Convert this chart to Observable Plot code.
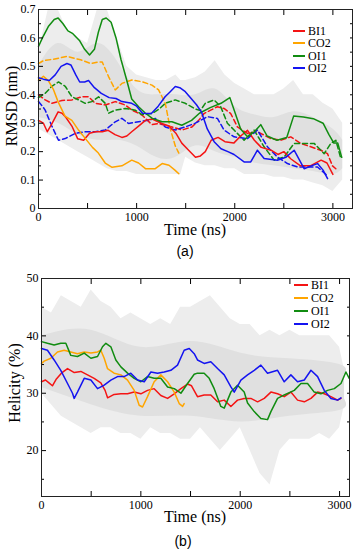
<!DOCTYPE html>
<html>
<head>
<meta charset="utf-8">
<script src="https://cdn.jsdelivr.net/npm/d3@7"></script>
<script src="https://cdn.jsdelivr.net/npm/@observablehq/plot@0.6"></script>
<style>
  html, body { margin: 0; padding: 0; background: #fff; }
  #fig { position: relative; width: 357px; height: 550px; overflow: hidden; font-family: "Liberation Serif", "Times New Roman", serif; color: #000; }
  #fig svg { position: absolute; left: 0; }
  .lbl { position: absolute; line-height: 1; white-space: nowrap; transform: translate(-50%, -50%); }
  .rot { transform: translate(-50%, -50%) rotate(-90deg); }
  .sans { font-family: "Liberation Sans", Arial, sans-serif; }
  .leg { position: absolute; line-height: 0.75; white-space: nowrap; transform: translateY(-50%); }
  .sw { position: absolute; height: 2px; }
</style>
</head>
<body>
<div id="fig"></div>
<script>
// ---------- Series names and colours ----------
const series = ["BI1", "CO2", "OI1", "OI2"];
const colors = ["#f41414", "#ffa500", "#118c11", "#1414f0"];

// ---------- Panel (a): RMSD (nm) vs Time (ns) ----------
const rmsdBI1 = [[0,0.31],[50,0.30],[90,0.27],[140,0.30],[200,0.34],[240,0.335],[280,0.32],[340,0.29],[400,0.245],[460,0.24],[520,0.265],[580,0.27],[650,0.27],[710,0.275],[780,0.26],[850,0.25],[900,0.255],[950,0.27],[1020,0.29],[1090,0.31],[1160,0.315],[1250,0.30],[1330,0.29],[1400,0.265],[1460,0.23],[1530,0.205],[1600,0.18],[1650,0.185],[1700,0.20],[1760,0.24],[1830,0.25],[1900,0.235],[1990,0.23],[2060,0.255],[2130,0.275],[2200,0.24],[2270,0.215],[2370,0.205],[2440,0.19],[2500,0.20],[2570,0.175],[2670,0.15],[2770,0.15],[2880,0.17],[2940,0.16],[3000,0.12]];
const rmsdCO2 = [[0,0.45],[50,0.465],[100,0.45],[150,0.42],[200,0.375],[270,0.325],[340,0.31],[410,0.275],[480,0.245],[550,0.215],[610,0.195],[680,0.16],[750,0.145],[850,0.15],[950,0.17],[1020,0.16],[1090,0.14],[1190,0.14],[1260,0.158],[1330,0.152],[1390,0.135],[1430,0.122]];
const rmsdOI1 = [[0,0.57],[40,0.60],[100,0.64],[160,0.665],[200,0.67],[250,0.65],[300,0.625],[350,0.615],[420,0.59],[470,0.56],[520,0.54],[570,0.56],[610,0.62],[650,0.665],[690,0.67],[740,0.655],[790,0.60],[840,0.525],[900,0.45],[950,0.385],[1020,0.358],[1090,0.335],[1160,0.317],[1260,0.305],[1360,0.305],[1460,0.293],[1560,0.31],[1640,0.335],[1750,0.355],[1860,0.37],[1950,0.39],[1990,0.35],[2060,0.28],[2130,0.252],[2200,0.27],[2265,0.295],[2330,0.255],[2430,0.24],[2530,0.25],[2600,0.325],[2700,0.322],[2800,0.316],[2900,0.30],[2960,0.26],[3010,0.23],[3050,0.23],[3090,0.18]];
const rmsdOI2 = [[0,0.46],[50,0.455],[110,0.45],[170,0.47],[230,0.50],[290,0.51],[330,0.505],[380,0.47],[420,0.445],[470,0.445],[510,0.45],[570,0.425],[640,0.405],[720,0.39],[790,0.387],[850,0.376],[950,0.37],[1000,0.36],[1060,0.335],[1150,0.334],[1220,0.36],[1290,0.393],[1340,0.41],[1394,0.429],[1440,0.425],[1496,0.411],[1560,0.385],[1610,0.365],[1660,0.34],[1720,0.28],[1790,0.235],[1860,0.21],[1930,0.20],[1993,0.19],[2095,0.164],[2163,0.164],[2231,0.205],[2299,0.176],[2435,0.17],[2520,0.18],[2605,0.205],[2707,0.14],[2780,0.15],[2844,0.158],[2900,0.135],[2946,0.105]];
const rmsdBI1d = [[0,0.40],[68,0.382],[136,0.37],[238,0.38],[340,0.382],[442,0.393],[510,0.393],[578,0.37],[680,0.364],[782,0.376],[884,0.364],[952,0.346],[1054,0.329],[1156,0.295],[1224,0.299],[1360,0.287],[1462,0.276],[1564,0.287],[1632,0.31],[1687,0.334],[1755,0.346],[1823,0.358],[1891,0.352],[1959,0.334],[2027,0.287],[2129,0.264],[2231,0.27],[2367,0.246],[2469,0.24],[2571,0.252],[2673,0.229],[2775,0.217],[2877,0.205],[2945,0.193],[2996,0.15],[3030,0.14]];
const rmsdCO2d = [[0,0.51],[50,0.52],[150,0.525],[290,0.535],[430,0.523],[530,0.51],[600,0.515],[650,0.515],[714,0.464],[782,0.417],[850,0.44],[952,0.452],[1054,0.446],[1156,0.434],[1224,0.417],[1292,0.37],[1343,0.28],[1394,0.22],[1430,0.195]];
const rmsdOI1d = [[0,0.39],[68,0.405],[136,0.43],[204,0.445],[272,0.43],[340,0.393],[408,0.382],[476,0.37],[544,0.376],[612,0.393],[680,0.37],[714,0.335],[782,0.346],[884,0.352],[986,0.346],[1054,0.33],[1156,0.334],[1230,0.35],[1292,0.37],[1394,0.382],[1496,0.37],[1598,0.35],[1650,0.345],[1700,0.37],[1789,0.382],[1857,0.358],[1925,0.30],[1993,0.276],[2095,0.24],[2197,0.276],[2299,0.217],[2401,0.17],[2503,0.181],[2605,0.229],[2707,0.229],[2809,0.229],[2911,0.193],[2979,0.229],[3030,0.24],[3081,0.176]];
const rmsdOI2d = [[0,0.376],[40,0.36],[68,0.346],[136,0.29],[204,0.24],[272,0.246],[374,0.264],[476,0.27],[578,0.27],[680,0.276],[782,0.305],[850,0.317],[918,0.299],[1020,0.305],[1122,0.311],[1190,0.317],[1292,0.287],[1394,0.276],[1496,0.287],[1598,0.30],[1721,0.323],[1823,0.317],[1891,0.276],[1993,0.252],[2129,0.246],[2231,0.276],[2333,0.217],[2435,0.181],[2537,0.158],[2639,0.146],[2741,0.146],[2843,0.146],[2945,0.115]];
// raw (grey) RMSD spread: time, low, high (outer spikes) and dense core
const rawRmsdT  = [0,100,200,300,400,500,600,700,800,900,1000,1100,1200,1300,1400,1450,1500,1600,1700,1800,1900,2000,2100,2200,2300,2400,2500,2600,2700,2800,2900,3000,3100];
const rawRmsdLo = [0.28,0.26,0.24,0.22,0.20,0.18,0.16,0.14,0.13,0.13,0.12,0.12,0.12,0.12,0.12,0.12,0.18,0.16,0.15,0.15,0.14,0.14,0.12,0.12,0.12,0.11,0.11,0.10,0.10,0.09,0.08,0.06,0.10];
const rawRmsdHi = [0.55,0.70,0.70,0.62,0.60,0.58,0.70,0.70,0.60,0.50,0.47,0.46,0.45,0.45,0.47,0.45,0.45,0.46,0.48,0.52,0.47,0.44,0.42,0.40,0.40,0.40,0.42,0.45,0.40,0.40,0.37,0.35,0.30];
const coreRmsdT  = [0,200,400,600,800,1000,1200,1400,1600,1800,2000,2200,2400,2600,2800,3000,3100];
const coreRmsdLo = [0.32,0.30,0.26,0.24,0.24,0.22,0.18,0.18,0.22,0.20,0.18,0.16,0.15,0.14,0.13,0.12,0.14];
const coreRmsdHi = [0.50,0.58,0.55,0.58,0.52,0.42,0.40,0.40,0.40,0.42,0.36,0.33,0.32,0.34,0.32,0.28,0.24];

// ---------- Panel (b): Helicity (%) vs Time (ns) ----------
const helBI1 = [[0,32],[40,32.3],[75,31.8],[110,31.3],[150,32.5],[200,33.5],[262,34.3],[330,33.6],[396,33.8],[463,33.2],[530,32.6],[597,31.8],[640,30.5],[665,29.2],[731,29.8],[799,29.9],[866,29.9],[933,30.2],[1000,29.9],[1067,30.5],[1134,30.8],[1201,29.6],[1269,29.1],[1336,29.9],[1403,30.8],[1470,31.6],[1510,31.3],[1570,29.4],[1637,29.7],[1704,29.7],[1772,28.5],[1839,28.8],[1906,27.7],[1973,28.8],[2040,29.1],[2107,29.1],[2175,28.5],[2242,29.1],[2309,30.2],[2376,29.9],[2443,29.4],[2510,30.2],[2577,28.8],[2645,28.5],[2712,29.1],[2779,30.2],[2846,29.9],[2913,29.4],[2980,28.8],[3014,29.1]];
const helCO2 = [[0,35.2],[27,35.6],[94,36.1],[161,37.2],[228,37.5],[295,37.2],[362,36.9],[430,37.2],[497,37.0],[564,37.2],[597,37.5],[631,36.1],[664,34.3],[731,33.5],[799,33.2],[866,32.3],[933,30.5],[983,27.9],[1017,27.6],[1067,29.4],[1134,32.0],[1201,33.2],[1269,32.0],[1336,30.2],[1386,28.2],[1420,27.7],[1436,28.2]];
const helOI1 = [[0,39],[60,38.7],[127,38.4],[194,38.7],[245,38.7],[295,36.6],[362,36.4],[430,37.0],[497,36.1],[564,36.4],[614,38.1],[648,38.7],[698,38.1],[748,35.8],[799,34.6],[866,33.5],[933,32.6],[1000,32.0],[1067,32.9],[1134,32.6],[1201,32.6],[1269,31.1],[1336,30.8],[1403,30.0],[1470,31.7],[1537,33.3],[1570,33.5],[1637,33.5],[1688,32.6],[1738,30.8],[1805,27.7],[1839,27.4],[1906,30.2],[1973,31.4],[2040,30.2],[2074,28.3],[2141,26.8],[2208,25.6],[2275,25.4],[2309,26.8],[2376,29.1],[2443,29.7],[2544,30.5],[2611,31.7],[2678,31.7],[2745,30.2],[2812,29.9],[2879,30.5],[2947,30.8],[3014,31.7],[3064,33.7],[3097,32.6]];
const helOI2 = [[0,37.8],[60,37.5],[127,35.8],[194,34.0],[262,31.7],[312,30.0],[329,29.1],[362,30.2],[430,32.6],[497,32.3],[564,30.8],[631,31.4],[698,32.3],[765,32.9],[832,32.9],[899,33.5],[967,32.3],[1034,32.0],[1101,33.7],[1168,33.5],[1235,33.7],[1302,34.0],[1369,34.9],[1436,37.5],[1487,37.8],[1537,36.9],[1570,35.8],[1637,35.2],[1704,35.5],[1772,34.3],[1839,33.2],[1906,31.1],[1940,30.2],[2007,32.3],[2074,33.2],[2141,34.0],[2208,34.9],[2275,33.5],[2376,34.0],[2443,32.0],[2510,33.2],[2577,32.0],[2645,32.3],[2712,34.0],[2779,32.9],[2846,30.5],[2913,29.1],[2980,28.8],[3014,29.2]];
const rawHelT  = [0,100,200,300,400,500,600,700,800,900,1000,1100,1200,1300,1400,1500,1600,1700,1800,1900,2000,2100,2200,2300,2400,2500,2600,2700,2800,2900,3000,3050];
const rawHelLo = [30,28,26,25,24,23,24,24,23,23,22,24,23,23,22,22,24,22,20,22,24,20,16,14,20,22,22,22,23,22,24,28];
const rawHelHi = [45,44,47,46,45,48,46,45,43,44,43,42,43,42,45,45,46,47,45,43,42,42,40,41,40,41,40,40,40,40,38,34];
const coreHelT  = [0,500,1000,1500,2000,2500,3000,3050];
const coreHelLo = [31,28,26,26,25,26,27,29];
const coreHelHi = [40,41,38,39,37,36,35,33];

// ---------- Axis ticks ----------
const rmsdTicks = [0, 0.1, 0.2, 0.3, 0.4, 0.5, 0.6, 0.7];
const rmsdMinor = [0.05, 0.15, 0.25, 0.35, 0.45, 0.55, 0.65];
const helTicks = [20, 30, 40, 50];
const helMinor = [15, 25, 35, 45];
const timeTicks = [0, 1000, 2000, 3000];
const timeMinor = [500, 1500, 2500];

// ---------- helpers ----------
const toRows = (pairs) => pairs.map(([t, v]) => ({t, v}));
const band = (T, lo, hi) => T.map((t, i) => ({t, lo: lo[i], hi: hi[i]}));
const fontStyle = {fontFamily: "'Liberation Serif', 'Times New Roman', serif", fontSize: "12px", color: "#000", background: "transparent", overflow: "visible"};
const blank = () => "";

function panel({height, mTop, mBottom, mLeft, mRight, xDomain, yDomain, yTicks, yMinor, yFmt, raw, core, solid, dashed}) {
  const all = [...yTicks, ...yMinor];
  const xall = [...timeTicks, ...timeMinor];
  const marks = [
    Plot.areaY(raw, {x: "t", y1: "lo", y2: "hi", fill: "#ededed"}),
    Plot.areaY(core, {x: "t", y1: "lo", y2: "hi", fill: "#e0e0e0", curve: "natural"}),
    ...dashed.map((s, i) => Plot.line(toRows(s), {x: "t", y: "v", stroke: colors[i], strokeWidth: 1.5, strokeDasharray: "5,3"})),
    ...solid.map((s, i) => Plot.line(toRows(s), {x: "t", y: "v", stroke: colors[i], strokeWidth: 1.5})),
    // labels
    Plot.axisY(yTicks, {anchor: "left", tickSize: 0, tickPadding: 3, tickFormat: yFmt, fontSize: 12}),
    Plot.axisX(timeTicks, {anchor: "bottom", tickSize: 0, tickPadding: 4, tickFormat: d => String(d), fontSize: 12}),
    // inward ticks
    Plot.axisY(yTicks, {anchor: "left", tickSize: 5, dx: 5, tickFormat: blank}),
    Plot.axisY(yMinor, {anchor: "left", tickSize: 3, dx: 3, tickFormat: blank}),
    Plot.axisY(all, {anchor: "right", tickSize: 3, dx: -3, tickFormat: blank}),
    Plot.axisX(xall, {anchor: "bottom", tickSize: 5, dy: -5, tickFormat: blank}),
    Plot.axisX(xall, {anchor: "top", tickSize: 5, dy: 5, tickFormat: blank}),
    Plot.frame({stroke: "#222", strokeWidth: 1})
  ];
  return Plot.plot({
    width: 357, height,
    marginTop: mTop, marginBottom: mBottom, marginLeft: mLeft, marginRight: mRight,
    x: {domain: xDomain, label: null, axis: null},
    y: {domain: yDomain, label: null, axis: null},
    style: fontStyle,
    marks
  });
}

const fig = document.getElementById("fig");

const pa = panel({
  height: 262, mTop: 9, mBottom: 54, mLeft: 38, mRight: 5,
  xDomain: [0, 3200], yDomain: [0, 0.7],
  yTicks: rmsdTicks, yMinor: rmsdMinor, yFmt: d => d === 0 ? "0" : d.toFixed(1),
  raw: band(rawRmsdT, rawRmsdLo, rawRmsdHi),
  core: band(coreRmsdT, coreRmsdLo, coreRmsdHi),
  solid: [rmsdBI1, rmsdCO2, rmsdOI1, rmsdOI2],
  dashed: [rmsdBI1d, rmsdCO2d, rmsdOI1d, rmsdOI2d]
});
pa.style.top = "0px";
fig.appendChild(pa);

const pb = panel({
  height: 280, mTop: 8, mBottom: 54, mLeft: 41, mRight: 8,
  xDomain: [0, 3100], yDomain: [12, 50],
  yTicks: helTicks, yMinor: helMinor, yFmt: d => String(d),
  raw: band(rawHelT, rawHelLo, rawHelHi),
  core: band(coreHelT, coreHelLo, coreHelHi),
  solid: [helBI1, helCO2, helOI1, helOI2],
  dashed: []
});
pb.style.top = "270px";
fig.appendChild(pb);

// ---------- titles ----------
function addText(txt, x, y, size, cls) {
  const d = document.createElement("div");
  d.className = "lbl " + (cls || "");
  d.textContent = txt;
  d.style.left = x + "px";
  d.style.top = y + "px";
  d.style.fontSize = size + "px";
  fig.appendChild(d);
}
addText("RMSD (nm)", 12, 106, 16, "rot");
addText("Time (ns)", 195, 230, 16);
addText("(a)", 185, 251, 14, "sans");
addText("Helicity (%)", 15, 383, 16, "rot");
addText("Time (ns)", 195, 517, 16);
addText("(b)", 183, 541, 14, "sans");

// ---------- legends ----------
function legend(x0, textX, ys, size) {
  series.forEach((name, i) => {
    const sw = document.createElement("div");
    sw.className = "sw";
    sw.style.left = x0 + "px";
    sw.style.top = Math.round(ys[i] - 1) + "px";
    sw.style.width = (textX - x0 - 3) + "px";
    sw.style.background = colors[i];
    fig.appendChild(sw);
    const t = document.createElement("div");
    t.className = "leg";
    t.textContent = name;
    t.style.left = textX + "px";
    t.style.top = ys[i] + "px";
    t.style.fontSize = size + "px";
    fig.appendChild(t);
  });
}
legend(293, 308, [30.5, 43, 55.5, 68], 12);
legend(294, 311, [284.5, 297.5, 310.5, 323.5], 12);
</script>
</body>
</html>
